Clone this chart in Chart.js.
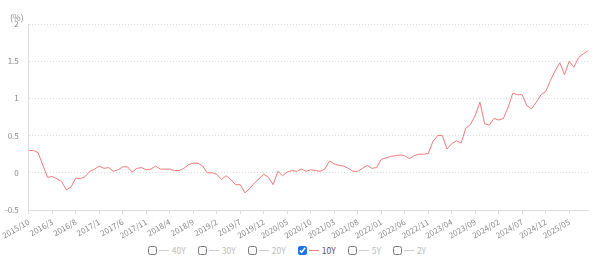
<!DOCTYPE html>
<html>
<head>
<meta charset="utf-8">
<script src="https://cdn.jsdelivr.net/npm/chart.js@4/dist/chart.umd.min.js"></script>
<style>
body { margin:0; background:#fff; font-family:"Noto Sans CJK JP","Noto Sans",sans-serif; }
#wrap { position:relative; width:600px; height:268px; }
#unit { position:absolute; left:10px; top:11px; font-size:8.5px; color:#888; }
#legend { position:absolute; left:0; top:243px; width:600px; height:14px; display:flex; justify-content:center; padding-right:26px; box-sizing:border-box; font-size:8.5px; }
#legend .item { display:flex; align-items:center; margin:0 6px; color:#bbb; }
#legend input { width:9px; height:9px; margin:0 2px 0 0; accent-color:#1a73e8; }
#legend .ln { display:inline-block; width:10px; height:1px; background:#ccc; margin-right:3px; }
</style>
</head>
<body>
<div id="wrap">
  <canvas id="myChart" width="600" height="240"></canvas>
  <div id="unit">(%)</div>
  <div id="legend"></div>
</div>
<script>
// JGB yields, monthly 2015/10 - 2025/09
var seriesNames = ['40Y','30Y','20Y','10Y','5Y','2Y'];
var shownSeries = '10Y';
var tickLabels = ['2015/10','2016/3','2016/8','2017/1','2017/6','2017/11','2018/4','2018/9','2019/2','2019/7','2019/12','2020/05','2020/10','2021/03','2021/08','2022/01','2022/06','2022/11','2023/04','2023/09','2024/02','2024/07','2024/12','2025/05'];
var yTicks = [-0.5, 0, 0.5, 1, 1.5, 2];

var y10 = [
	0.30,0.30,0.27,0.10,-0.06,-0.05,-0.08,-0.12,-0.23,-0.19,-0.07,-0.08,
	-0.05,0.02,0.05,0.09,0.06,0.07,0.02,0.04,0.08,0.08,0.01,0.06,
	0.07,0.04,0.05,0.09,0.05,0.05,0.05,0.03,0.03,0.06,0.11,0.13,
	0.13,0.09,0.00,0.00,-0.02,-0.09,-0.04,-0.09,-0.16,-0.16,-0.27,-0.21,
	-0.14,-0.08,-0.02,-0.06,-0.16,0.02,-0.04,0.01,0.03,0.02,0.05,0.02,
	0.04,0.03,0.02,0.05,0.16,0.12,0.10,0.09,0.06,0.02,0.02,0.06,
	0.10,0.06,0.07,0.18,0.20,0.22,0.23,0.24,0.23,0.19,0.23,0.25,
	0.25,0.26,0.42,0.50,0.50,0.32,0.39,0.43,0.40,0.60,0.65,0.77,
	0.95,0.66,0.64,0.73,0.71,0.73,0.88,1.07,1.05,1.05,0.90,0.86,
	0.95,1.05,1.09,1.24,1.37,1.48,1.32,1.50,1.42,1.55,1.60,1.64
];

var months = [];
for (var i = 0; i < y10.length; i++) {
	var m = 9 + i;
	months.push((2015 + Math.floor(m / 12)) + '/' + (m % 12 + 1));
}

// legend
var legend = document.getElementById('legend');
seriesNames.forEach(function(n){
	var on = n === shownSeries;
	var item = document.createElement('label');
	item.className = 'item';
	item.innerHTML = '<input type="checkbox"' + (on ? ' checked' : '') + '><span class="ln"' +
		(on ? ' style="background:#ef7b7b"' : '') + '></span><span' + (on ? ' style="color:#555"' : '') + '>' + n + '</span>';
	legend.appendChild(item);
});

var config = {
	type: 'line',
	data: {
		labels: months,
		datasets: [{
			label: shownSeries,
			data: y10,
			borderColor: '#ef7b7b',
			borderWidth: 1,
			pointRadius: 0,
			tension: 0,
			fill: false
		}]
	},
	options: {
		responsive: false,
		animation: false,
		layout: { padding: { top: 24, right: 12, left: 0, bottom: 0 } },
		plugins: { legend: { display: false }, tooltip: { enabled: false } },
		scales: {
			x: {
				offset: false,
				grid: { drawOnChartArea: false, drawTicks: true, tickLength: 4, color: '#ddd' },
				border: { color: '#ddd' },
				afterBuildTicks: function(axis){
					axis.ticks = axis.ticks.filter(function(t){ return t.value % 5 === 0; });
				},
				afterFit: function(axis){ axis.height = 30; },
				ticks: {
					autoSkip: false,
					minRotation: 30,
					maxRotation: 30,
					padding: 3,
					color: '#888',
					font: { size: 8, family: '"Noto Sans CJK JP","Noto Sans",sans-serif' },
					callback: function(v){ return tickLabels[v / 5]; }
				}
			},
			y: {
				min: -0.5,
				max: 2,
				afterBuildTicks: function(axis){
					axis.ticks = yTicks.map(function(v){ return { value: v }; });
				},
				afterFit: function(axis){ axis.width = 28; },
				grid: { drawTicks: false, color: '#ddd' },
				border: { color: '#ddd', dash: [1, 2] },
				ticks: {
					padding: 10,
					color: '#888',
					font: { size: 8, family: '"Noto Sans CJK JP","Noto Sans",sans-serif' },
					callback: function(v){ return String(v); }
				}
			}
		}
	}
};

var myChart = new Chart(document.getElementById('myChart'), config);
</script>
</body>
</html>
